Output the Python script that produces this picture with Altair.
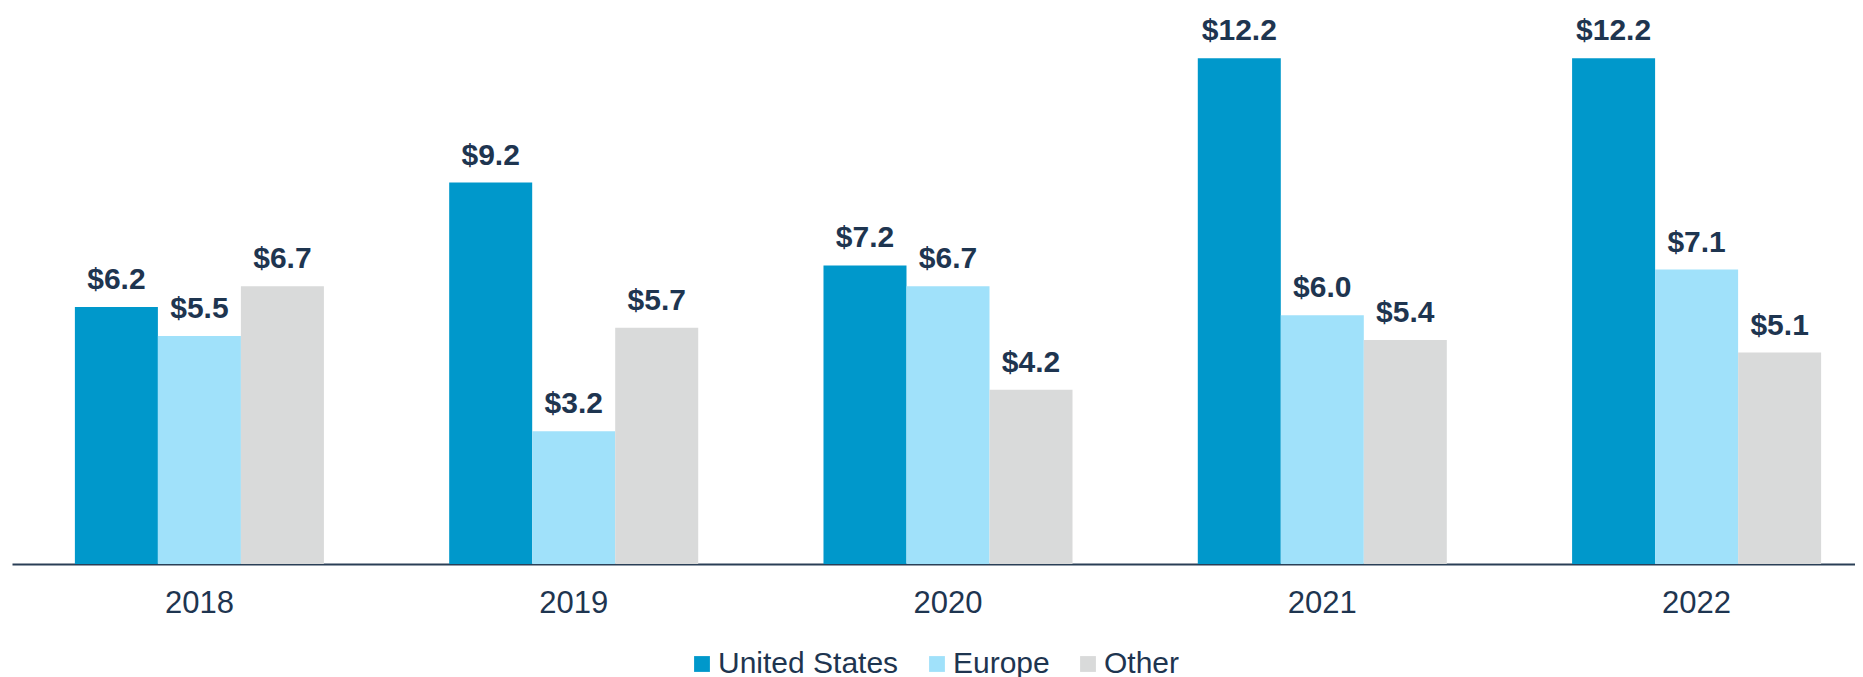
import altair as alt
import pandas as pd

years = ["2018", "2019", "2020", "2021", "2022"]
series = ["United States", "Europe", "Other"]
us_values = [6.2, 9.2, 7.2, 12.2, 12.2]
europe_values = [5.5, 3.2, 6.7, 6.0, 7.1]
other_values = [6.7, 5.7, 4.2, 5.4, 5.1]
colors = ["#0098CB", "#A0E1FA", "#D9DADA"]
text_color = "#1E3550"

rows = []
for s, vals in zip(series, [us_values, europe_values, other_values]):
    for y, v in zip(years, vals):
        rows.append({"year": y, "series": s, "value": v, "label": f"${v:.1f}"})
df = pd.DataFrame(rows)

x_enc = alt.X("year:N", sort=years,
              scale=alt.Scale(range=[0, 1872], paddingInner=0.3347, paddingOuter=0.168),
              axis=alt.Axis(title=None, labelAngle=0, ticks=False, tickSize=0, grid=False,
                            domainColor="#2A3F56", domainWidth=2,
                            labelFont="Liberation Sans", labelFontSize=31,
                            labelColor=text_color, labelPadding=24))
xo_enc = alt.XOffset("series:N", sort=series, scale=alt.Scale(paddingInner=0, paddingOuter=0))
y_enc = alt.Y("value:Q", scale=alt.Scale(domain=[0, 13.41], nice=False, zero=True), axis=None)

bars = alt.Chart(df).mark_bar().encode(
    x=x_enc,
    xOffset=xo_enc,
    y=y_enc,
    color=alt.Color("series:N", sort=series,
                    scale=alt.Scale(domain=series, range=colors),
                    legend=alt.Legend(title=None, orient="none", legendX=675, legendY=641,
                                      direction="horizontal", symbolType="square",
                                      symbolSize=250, symbolStrokeWidth=0,
                                      labelFont="Liberation Sans", labelFontSize=30,
                                      labelColor=text_color, labelOffset=1, labelLimit=500,
                                      columnPadding=23, padding=0)),
)

labels = alt.Chart(df).mark_text(
    baseline="alphabetic", align="center", dy=-18,
    font="Liberation Sans", fontWeight="bold", fontSize=30,
    color=text_color,
).encode(
    x=alt.X("year:N", sort=years),
    xOffset=alt.XOffset("series:N", sort=series),
    y=alt.Y("value:Q"),
    text="label:N",
)

chart = alt.layer(bars, labels).properties(
    width=1843, height=556,
    autosize=alt.AutoSizeParams(type="none"),
    padding={"left": 4, "top": 0, "right": 0, "bottom": 113},
).configure_view(stroke=None)

chart.save("out.html", embed_options={"renderer": "svg", "actions": False})
